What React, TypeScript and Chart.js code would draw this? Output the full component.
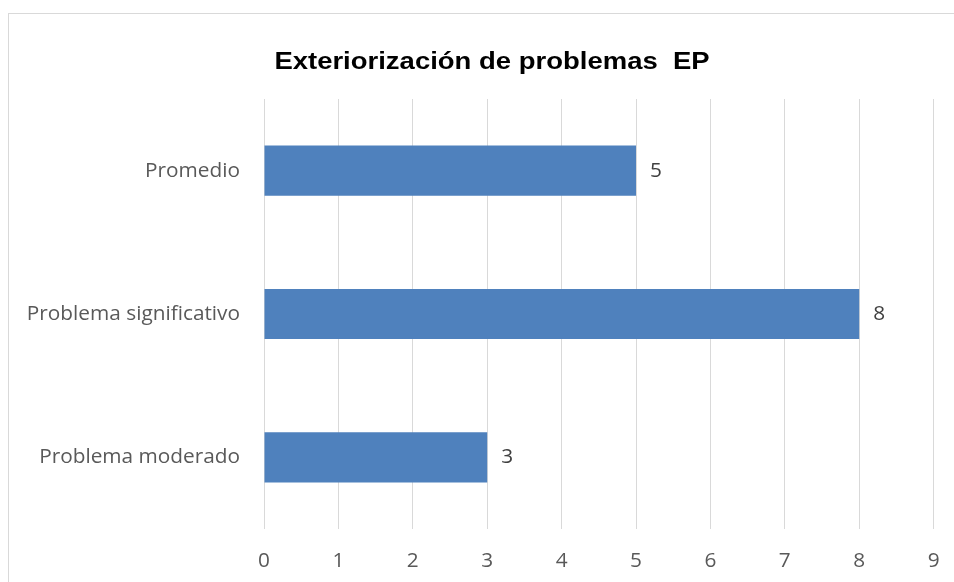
import React, { useEffect, useRef } from "react";
import { Chart, registerables } from "chart.js";

Chart.register(...registerables);

const categories = ["Promedio", "Problema significativo", "Problema moderado"];
const values = [5, 8, 3];
const xTicks = [0, 1, 2, 3, 4, 5, 6, 7, 8, 9];
const chartTitle = "Exteriorización de problemas  EP";

const labelFont = "'Open Sans', 'Noto Sans', sans-serif";
const labelSize = 20.8;

const titlePlugin = {
  id: "customTitle",
  afterDraw(chart: any) {
    const ctx = chart.ctx;
    ctx.save();
    ctx.font = "bold 24px 'Liberation Sans', Arial, sans-serif";
    ctx.fillStyle = "#000000";
    ctx.textAlign = "center";
    ctx.textBaseline = "alphabetic";
    ctx.translate(492, 69);
    ctx.scale(1.145, 1);
    ctx.fillText(chartTitle, 0, 0);
    ctx.restore();
  },
};

const valueLabelPlugin = {
  id: "valueLabels",
  afterDatasetsDraw(chart: any) {
    const ctx = chart.ctx;
    const meta = chart.getDatasetMeta(0);
    ctx.save();
    ctx.font = `${labelSize}px ${labelFont}`;
    ctx.fillStyle = "#404040";
    ctx.textAlign = "left";
    ctx.textBaseline = "middle";
    meta.data.forEach((bar: any, i: number) => {
      ctx.fillText(String(values[i]), bar.x + 14, bar.y);
    });
    ctx.restore();
  },
};

export default function App() {
  const ref = useRef<HTMLCanvasElement>(null);
  useEffect(() => {
    if (!ref.current) return;
    const chart = new Chart(ref.current, {
      type: "bar",
      data: {
        labels: categories,
        datasets: [
          {
            data: values,
            backgroundColor: "#4f81bd",
            borderWidth: 0,
            barPercentage: 0.35,
            categoryPercentage: 1,
          },
        ],
      },
      options: {
        indexAxis: "y",
        animation: false,
        responsive: false,
        maintainAspectRatio: false,
        layout: { padding: { top: 99, right: 20.4, bottom: 0, left: 0 } },
        plugins: {
          legend: { display: false },
          title: { display: false },
          tooltip: { enabled: false },
        },
        scales: {
          x: {
            min: 0,
            max: 9,
            afterBuildTicks: (scale: any) => {
              scale.ticks = xTicks.map((v) => ({ value: v }));
            },
            afterFit: (scale: any) => {
              scale.height = 53;
              scale.paddingLeft = 0;
              scale.paddingRight = 0;
            },
            grid: { color: "#d9d9d9", lineWidth: 1, drawTicks: false },
            border: { display: false },
            ticks: {
              color: "#595959",
              font: { family: labelFont, size: labelSize },
              padding: 20,
            },
          },
          y: {
            afterFit: (scale: any) => {
              scale.width = 264;
              scale.paddingTop = 0;
              scale.paddingBottom = 0;
            },
            grid: { display: false, drawTicks: false },
            border: { display: false },
            ticks: {
              color: "#595959",
              font: { family: labelFont, size: labelSize },
              padding: 24,
            },
          },
        },
      },
      plugins: [titlePlugin, valueLabelPlugin],
    });
    return () => chart.destroy();
  }, []);

  return (
    <div
      style={{
        position: "fixed",
        left: 0,
        top: 0,
        width: 954,
        height: 582,
        background: "#ffffff",
        overflow: "hidden",
      }}
    >
      <div
        style={{
          position: "absolute",
          left: 8,
          top: 13,
          width: 1000,
          height: 700,
          border: "1.5px solid #d9d9d9",
          boxSizing: "border-box",
        }}
      />
      <canvas
        ref={ref}
        width={954}
        height={582}
        style={{ position: "absolute", left: 0, top: 0, width: 954, height: 582 }}
      />
    </div>
  );
}
